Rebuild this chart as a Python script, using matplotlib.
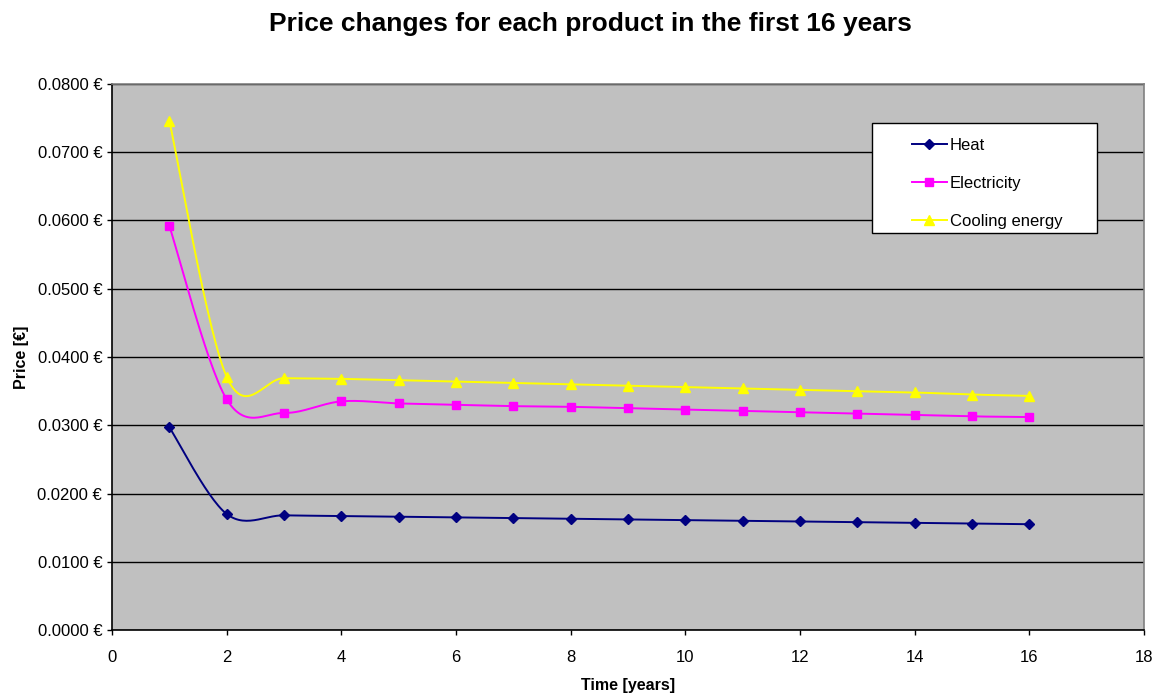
import numpy as np
import matplotlib.pyplot as plt
from matplotlib.lines import Line2D
from matplotlib.patches import Rectangle
from matplotlib.ticker import FuncFormatter, MultipleLocator

plt.rcParams['font.family'] = ['Liberation Sans', 'DejaVu Sans']

# Prices per year (EUR)
years = np.arange(1, 17)
heat = [0.0297, 0.0170, 0.0168, 0.0167, 0.0166, 0.0165, 0.0164, 0.0163,
        0.0162, 0.0161, 0.0160, 0.0159, 0.0158, 0.0157, 0.0156, 0.0155]
electricity = [0.0592, 0.0338, 0.0318, 0.0335, 0.0332, 0.0330, 0.0328, 0.0327,
               0.0325, 0.0323, 0.0321, 0.0319, 0.0317, 0.0315, 0.0313, 0.0312]
cooling = [0.0746, 0.0371, 0.0369, 0.0368, 0.0366, 0.0364, 0.0362, 0.0360,
           0.0358, 0.0356, 0.0354, 0.0352, 0.0350, 0.0348, 0.0345, 0.0343]

series = [
    ("Heat", heat, "#000080", "D", 4.9),
    ("Electricity", electricity, "#FF00FF", "s", 6.4),
    ("Cooling energy", cooling, "#FFFF00", "^", 7.0),
]


def smooth(x, y, n=30):
    # Catmull-Rom style cubic Bezier through every point (spreadsheet "smoothed line")
    x = np.asarray(x, float)
    y = np.asarray(y, float)
    px = np.concatenate([[x[0]], x, [x[-1]]])
    py = np.concatenate([[y[0]], y, [y[-1]]])
    t = np.linspace(0, 1, n)[:, None]
    out = []
    for i in range(1, len(px) - 2):
        p0 = np.array([px[i], py[i]])
        p3 = np.array([px[i + 1], py[i + 1]])
        p1 = p0 + (p3 - np.array([px[i - 1], py[i - 1]])) / 6
        p2 = p3 - (np.array([px[i + 2], py[i + 2]]) - p0) / 6
        seg = ((1 - t) ** 3) * p0 + 3 * ((1 - t) ** 2) * t * p1 \
            + 3 * (1 - t) * t ** 2 * p2 + t ** 3 * p3
        out.append(seg if i == 1 else seg[1:])
    pts = np.vstack(out)
    return pts[:, 0], pts[:, 1]


fig = plt.figure(figsize=(11.57, 6.98), dpi=100)
fig.patch.set_facecolor('white')
ax = fig.add_axes([112 / 1157, 68 / 698, 1032 / 1157, 546 / 698])
ax.set_facecolor('#C0C0C0')

handles = []
for name, vals, col, mk, ms in series:
    sx, sy = smooth(years, vals)
    ax.plot(sx, sy, color=col, lw=1.4, zorder=3)
    ax.plot(years, vals, ls='none', marker=mk, ms=ms, color=col,
            markeredgecolor=col, zorder=4)
    handles.append(Line2D([], [], color=col, lw=1.4, marker=mk, ms=ms,
                          markeredgecolor=col, label=name))

ax.set_xlim(0, 18)
ax.set_ylim(0, 0.08)
ax.xaxis.set_major_locator(MultipleLocator(2))
ax.yaxis.set_major_locator(MultipleLocator(0.01))
ax.yaxis.set_major_formatter(FuncFormatter(lambda v, p: f"{v:.4f} \u20ac"))
ax.grid(axis='y', color='black', lw=1.0)
ax.set_axisbelow(True)

for s in ['left', 'bottom']:
    ax.spines[s].set_color('black')
    ax.spines[s].set_linewidth(1.2)
for s in ['top', 'right']:
    ax.spines[s].set_color('#808080')
    ax.spines[s].set_linewidth(1.2)

ax.tick_params(axis='y', direction='out', length=3.6, width=1, pad=3.5,
               labelsize=12)
ax.tick_params(axis='x', direction='out', length=3.5, width=1, pad=11,
               labelsize=12)

ax.set_xlabel("Time [years]", fontsize=11.5, fontweight='bold', labelpad=9)
ax.set_ylabel("Price [\u20ac]", fontsize=11.5, fontweight='bold', labelpad=6)

fig.suptitle("Price changes for each product in the first 16 years",
             fontsize=19, fontweight='bold', x=590 / 1157, y=1 - 12 / 698,
             va='top')

# legend box
fig.patches.append(Rectangle((872 / 1157, 1 - 233 / 698), 225 / 1157, 110 / 698,
                             transform=fig.transFigure, facecolor='white',
                             edgecolor='black', lw=1.0, zorder=5))
leg = fig.legend(handles=handles, loc='upper left',
                 bbox_to_anchor=(900 / 1157, 1 - 126 / 698),
                 frameon=False, fontsize=12, handlelength=2.1,
                 handletextpad=0.2, labelspacing=1.38, borderpad=0.2,
                 numpoints=1)
leg.set_zorder(6)

fig.savefig('out.png', dpi=100)
